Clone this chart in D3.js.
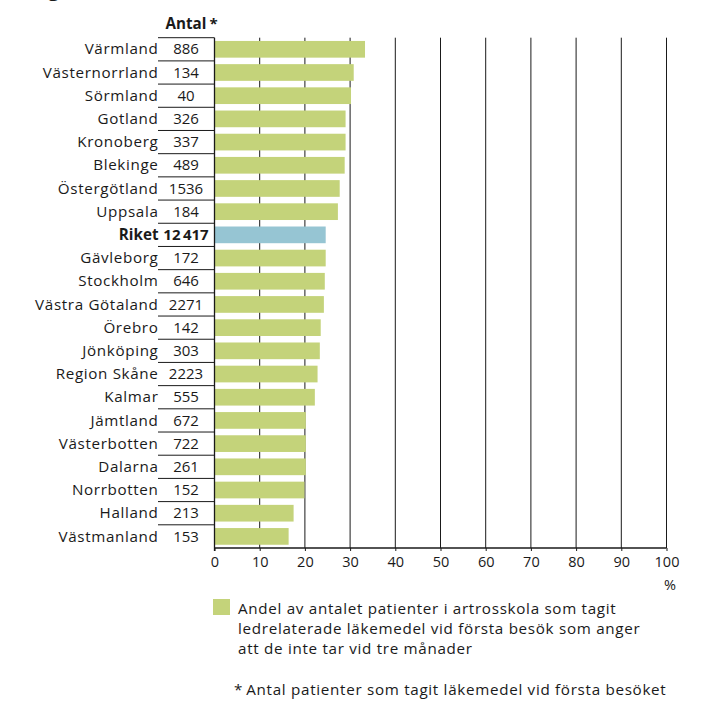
<!DOCTYPE html>
<html>
<head>
<meta charset="utf-8">
<script src="https://cdn.jsdelivr.net/npm/d3@7"></script>
<style>
  html, body { margin: 0; padding: 0; background: #fff; }
  svg { display: block; }
  text { font-family: "Open Sans", "Noto Sans", sans-serif; fill: #1a1a1a; }
</style>
</head>
<body>
<svg id="chart" width="703" height="702"></svg>
<script>
const regions = ["Värmland","Västernorrland","Sörmland","Gotland","Kronoberg","Blekinge","Östergötland","Uppsala","Riket","Gävleborg","Stockholm","Västra Götaland","Örebro","Jönköping","Region Skåne","Kalmar","Jämtland","Västerbotten","Dalarna","Norrbotten","Halland","Västmanland"];
const counts = ["886","134","40","326","337","489","1536","184","12\u2009417","172","646","2271","142","303","2223","555","672","722","261","152","213","153"];
const shares = [33.3,30.8,30.2,29.0,29.0,28.8,27.7,27.3,24.6,24.6,24.4,24.2,23.5,23.3,22.8,22.2,20.2,20.2,20.2,19.9,17.5,16.4];
const totalLabel = "Riket";
const xTicks = [0,10,20,30,40,50,60,70,80,90,100];
const countHeader = "Antal";
const unitLabel = "%";
const legendLines = ["Andel av antalet patienter i artrosskola som tagit","ledrelaterade läkemedel vid första besök som anger","att de inte tar vid tre månader"];
const footnote = "Antal patienter som tagit läkemedel vid första besöket";

const svg = d3.select("#chart");
const x = d3.scaleLinear().domain([0,100]).range([214.5,666.5]);
const y = d3.scaleBand().domain(regions).range([37.7,548]).paddingInner(0.28).paddingOuter(0.14);
const step = y.step();
const top0 = 37.7, bottom = 548;
const green = "#c4d37a", blue = "#96c5d3", ink = "#1a1a1a";
const labelSize = 15.2, labelSpacing = "0.65px";

// cut-off title fragment at top
svg.append("text").attr("x",48).attr("y",-4).attr("font-size",20).attr("font-weight","bold").text("g");

// gridlines
svg.append("g").selectAll("line").data(xTicks.filter(t=>t>0)).join("line")
  .attr("x1",d=>x(d)).attr("x2",d=>x(d)).attr("y1",top0).attr("y2",bottom)
  .attr("stroke",ink).attr("stroke-width",1);

// bars
svg.append("g").selectAll("rect").data(regions).join("rect")
  .attr("x",x(0)).attr("y",d=>y(d))
  .attr("width",(d,i)=>x(shares[i])-x(0))
  .attr("height",y.bandwidth())
  .attr("fill",d=>d===totalLabel?blue:green);

// axis
const axis = d3.axisBottom(x).tickValues(xTicks).tickSize(3).tickPadding(6).tickFormat(d3.format("d"));
const ag = svg.append("g").attr("transform",`translate(0,${bottom})`).call(axis);
ag.select(".domain").attr("stroke",ink).attr("stroke-width",1.3).attr("d",`M${x(0)},0H${x(100)}`);
ag.selectAll(".tick line").attr("stroke",ink);
ag.selectAll(".tick text").attr("font-size",14.5).attr("fill",ink).style("font-family",'"Open Sans", sans-serif');

// left vertical line (x=0)
svg.append("line").attr("x1",x(0)).attr("x2",x(0)).attr("y1",top0).attr("y2",bottom+3)
  .attr("stroke",ink).attr("stroke-width",1.3);

// row separators in count column
svg.append("g").selectAll("line").data(regions).join("line")
  .attr("x1",158).attr("x2",x(0))
  .attr("y1",(d,i)=>top0+i*step).attr("y2",(d,i)=>top0+i*step)
  .attr("stroke",ink).attr("stroke-width",1);

// row labels
svg.append("g").selectAll("text").data(regions).join("text")
  .attr("x",158.5).attr("y",d=>y(d)+y.bandwidth()/2+5.2)
  .attr("text-anchor","end").attr("font-size",labelSize)
  .style("letter-spacing",d=>d===totalLabel?"0px":labelSpacing)
  .attr("font-weight",d=>d===totalLabel?"bold":"normal")
  .text(d=>d);

// counts
svg.append("g").selectAll("text").data(regions).join("text")
  .attr("x",186).attr("y",d=>y(d)+y.bandwidth()/2+5.2)
  .attr("text-anchor","middle").attr("font-size",15)
  .attr("font-weight",d=>d===totalLabel?"bold":"normal")
  .text((d,i)=>counts[i]);

// header
svg.append("text").attr("x",186).attr("y",29).attr("text-anchor","middle")
  .attr("font-size",15.2).attr("font-weight","bold").text(countHeader);
svg.append("text").attr("x",209.5).attr("y",29).attr("font-size",15).attr("font-weight","bold").text("*");

// unit
svg.append("text").attr("x",670).attr("y",590).attr("text-anchor","middle").attr("font-size",14.5).text(unitLabel);

// legend
svg.append("rect").attr("x",213).attr("y",599).attr("width",17).attr("height",16).attr("fill",green);
svg.append("g").selectAll("text").data(legendLines).join("text")
  .attr("x",238).attr("y",(d,i)=>613.5+i*20).attr("font-size",labelSize)
  .style("letter-spacing","0.7px").text(d=>d);

// footnote
svg.append("text").attr("x",234).attr("y",695).attr("font-size",labelSize)
  .style("letter-spacing","0.7px").text("*" + "\u2009" + footnote);
</script>
</body>
</html>
